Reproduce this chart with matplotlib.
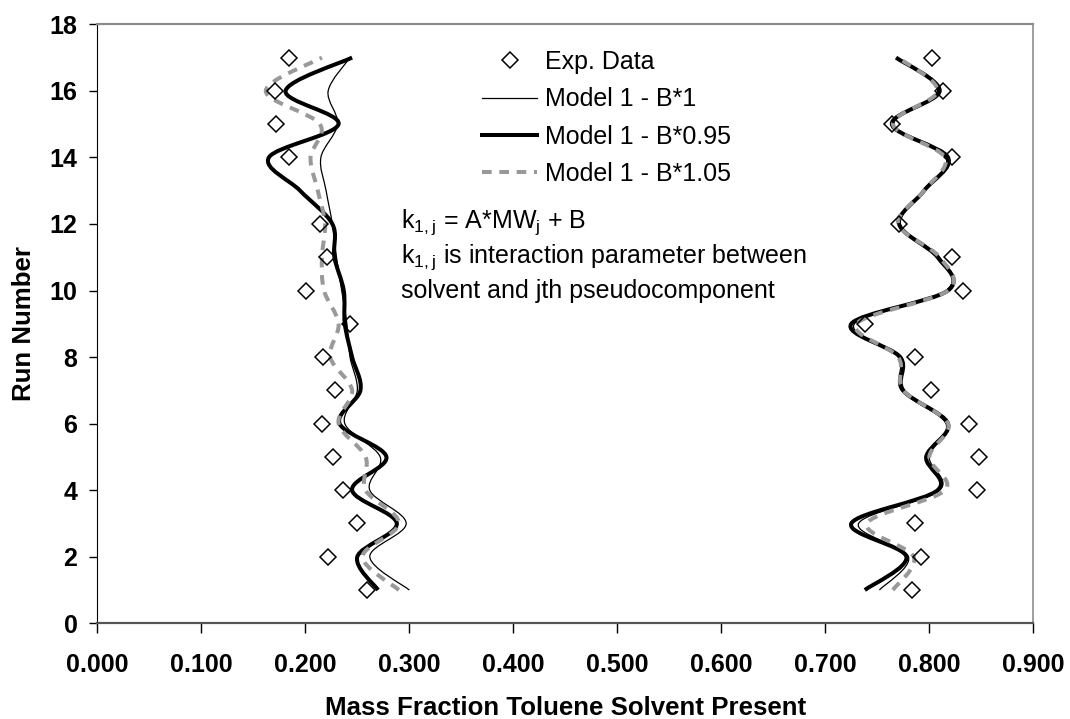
import numpy as np
import matplotlib
matplotlib.use("Agg")
import matplotlib.pyplot as plt
from matplotlib.path import Path
from matplotlib.patches import PathPatch
from matplotlib.lines import Line2D

plt.rcParams["font.family"] = ["Liberation Sans", "DejaVu Sans"]
plt.rcParams["mathtext.fontset"] = "custom"
plt.rcParams["mathtext.rm"] = "Liberation Sans"
plt.rcParams["mathtext.default"] = "regular"

runs = np.arange(1, 18)

# experimental mass fractions (run 13 not measured)
exp_left = [0.259, 0.222, 0.250, 0.236, 0.227, 0.216, 0.229, 0.217, 0.243,
            0.201, 0.221, 0.214, np.nan, 0.184, 0.172, 0.171, 0.184]
exp_right = [0.783, 0.792, 0.786, 0.846, 0.848, 0.838, 0.802, 0.786, 0.738,
             0.832, 0.822, 0.771, np.nan, 0.822, 0.764, 0.813, 0.803]

# Model 1, B*1
m1_left = [0.300, 0.262, 0.297, 0.262, 0.272, 0.238, 0.250, 0.243, 0.240,
           0.235, 0.230, 0.226, 0.220, 0.215, 0.231, 0.222, 0.243]
m1_right = [0.752, 0.780, 0.732, 0.810, 0.800, 0.816, 0.773, 0.770, 0.728,
            0.816, 0.810, 0.772, 0.795, 0.816, 0.766, 0.808, 0.770]

# Model 1, B*0.95
m095_left = [0.270, 0.250, 0.288, 0.245, 0.278, 0.233, 0.253, 0.245, 0.238,
             0.237, 0.228, 0.226, 0.195, 0.165, 0.232, 0.181, 0.245]
m095_right = [0.738, 0.778, 0.725, 0.808, 0.797, 0.818, 0.775, 0.772, 0.725,
              0.818, 0.808, 0.771, 0.795, 0.818, 0.764, 0.810, 0.768]

# Model 1, B*1.05
m105_left = [0.290, 0.255, 0.290, 0.258, 0.258, 0.232, 0.245, 0.224, 0.232,
             0.218, 0.216, 0.219, 0.212, 0.205, 0.214, 0.162, 0.216]
m105_right = [0.765, 0.785, 0.740, 0.815, 0.800, 0.818, 0.775, 0.770, 0.730,
              0.818, 0.810, 0.770, 0.795, 0.815, 0.765, 0.808, 0.770]


def smooth_path(xs, ys):
    """Bezier path through the points, like a spreadsheet 'smoothed line'."""
    p = np.column_stack([xs, ys])
    n = len(p)
    verts = [p[0]]
    codes = [Path.MOVETO]
    for i in range(n - 1):
        p0 = p[i - 1] if i > 0 else p[i]
        p3 = p[i + 2] if i + 2 < n else p[i + 1]
        c1 = p[i] + (p[i + 1] - p0) / 6.0
        c2 = p[i + 1] - (p3 - p[i]) / 6.0
        verts += [c1, c2, p[i + 1]]
        codes += [Path.CURVE4] * 3
    return Path(verts, codes)


fig = plt.figure(figsize=(10.7, 7.19), dpi=100)
ax = fig.add_axes([97.3 / 1070, 1 - 623.3 / 719, 936 / 1070, 599 / 719])

styles = [
    dict(color="black", lw=0.9, ls="-"),
    dict(color="black", lw=2.9, ls="-"),
    dict(color="#999999", lw=2.9, ls=(0, (2.4, 1.9))),
]
series = [(m1_left, m1_right), (m095_left, m095_right), (m105_left, m105_right)]
for (left, right), st in zip(series, styles):
    for xs in (left, right):
        ax.add_patch(PathPatch(smooth_path(xs, runs), fill=False,
                               edgecolor=st["color"], lw=st["lw"],
                               linestyle=st["ls"], capstyle="butt",
                               joinstyle="round", zorder=2))

for xs in (exp_left, exp_right):
    ax.plot(xs, runs, ls="none", marker="D", ms=8.4, mfc="none",
            mec="black", mew=1.1, zorder=3)

ax.set_xlim(0, 0.9)
ax.set_ylim(0, 18)
ax.set_xticks(np.arange(0, 0.91, 0.1))
ax.set_xticklabels([f"{v:.3f}" for v in np.arange(0, 0.91, 0.1)])
ax.set_yticks(np.arange(0, 19, 2))
ax.tick_params(direction="out", width=1, labelsize=18)
ax.tick_params(axis="x", length=7.2, pad=14)
ax.tick_params(axis="y", length=5.8, pad=8.5)
for lab in ax.get_xticklabels() + ax.get_yticklabels():
    lab.set_fontweight("bold")

ax.spines["left"].set_color("black")
ax.spines["bottom"].set_color("#555555")
ax.spines["bottom"].set_linewidth(1.6)
ax.spines["top"].set_color("#8c8c8c")
ax.spines["right"].set_color("#8c8c8c")
ax.spines["top"].set_linewidth(1.6)
ax.spines["right"].set_linewidth(1.2)

ax.set_xlabel("Mass Fraction Toluene Solvent Present", fontsize=18.6,
              fontweight="bold")
ax.xaxis.set_label_coords(0.5, -0.122)
ax.set_ylabel("Run Number", fontsize=18.6, fontweight="bold", labelpad=10)

handles = [
    Line2D([], [], ls="none", marker="D", ms=8.4, mfc="none", mec="black", mew=1.1),
    Line2D([], [], color="black", lw=0.9),
    Line2D([], [], color="black", lw=2.9),
    Line2D([], [], color="#999999", lw=2.9, ls=(0, (2.4, 1.9))),
]
labels = ["Exp. Data", "Model 1 - B*1", "Model 1 - B*0.95", "Model 1 - B*1.05"]
fig.legend(handles, labels, loc="upper left",
           bbox_to_anchor=(482 / 1070, 1 - 50 / 719), frameon=False,
           fontsize=18, handlelength=2.2, handletextpad=0.32,
           labelspacing=0.53, borderpad=0, borderaxespad=0)

note = ["k$_{1,j}$ = A*MW$_j$ + B",
        "k$_{1,j}$ is interaction parameter between",
        "solvent and jth pseudocomponent"]
for line, yb in zip(note, [11.89, 10.835, 9.78]):
    ax.text(0.292, yb, line, fontsize=18, va="baseline", ha="left")

fig.savefig("out.png", dpi=100)
